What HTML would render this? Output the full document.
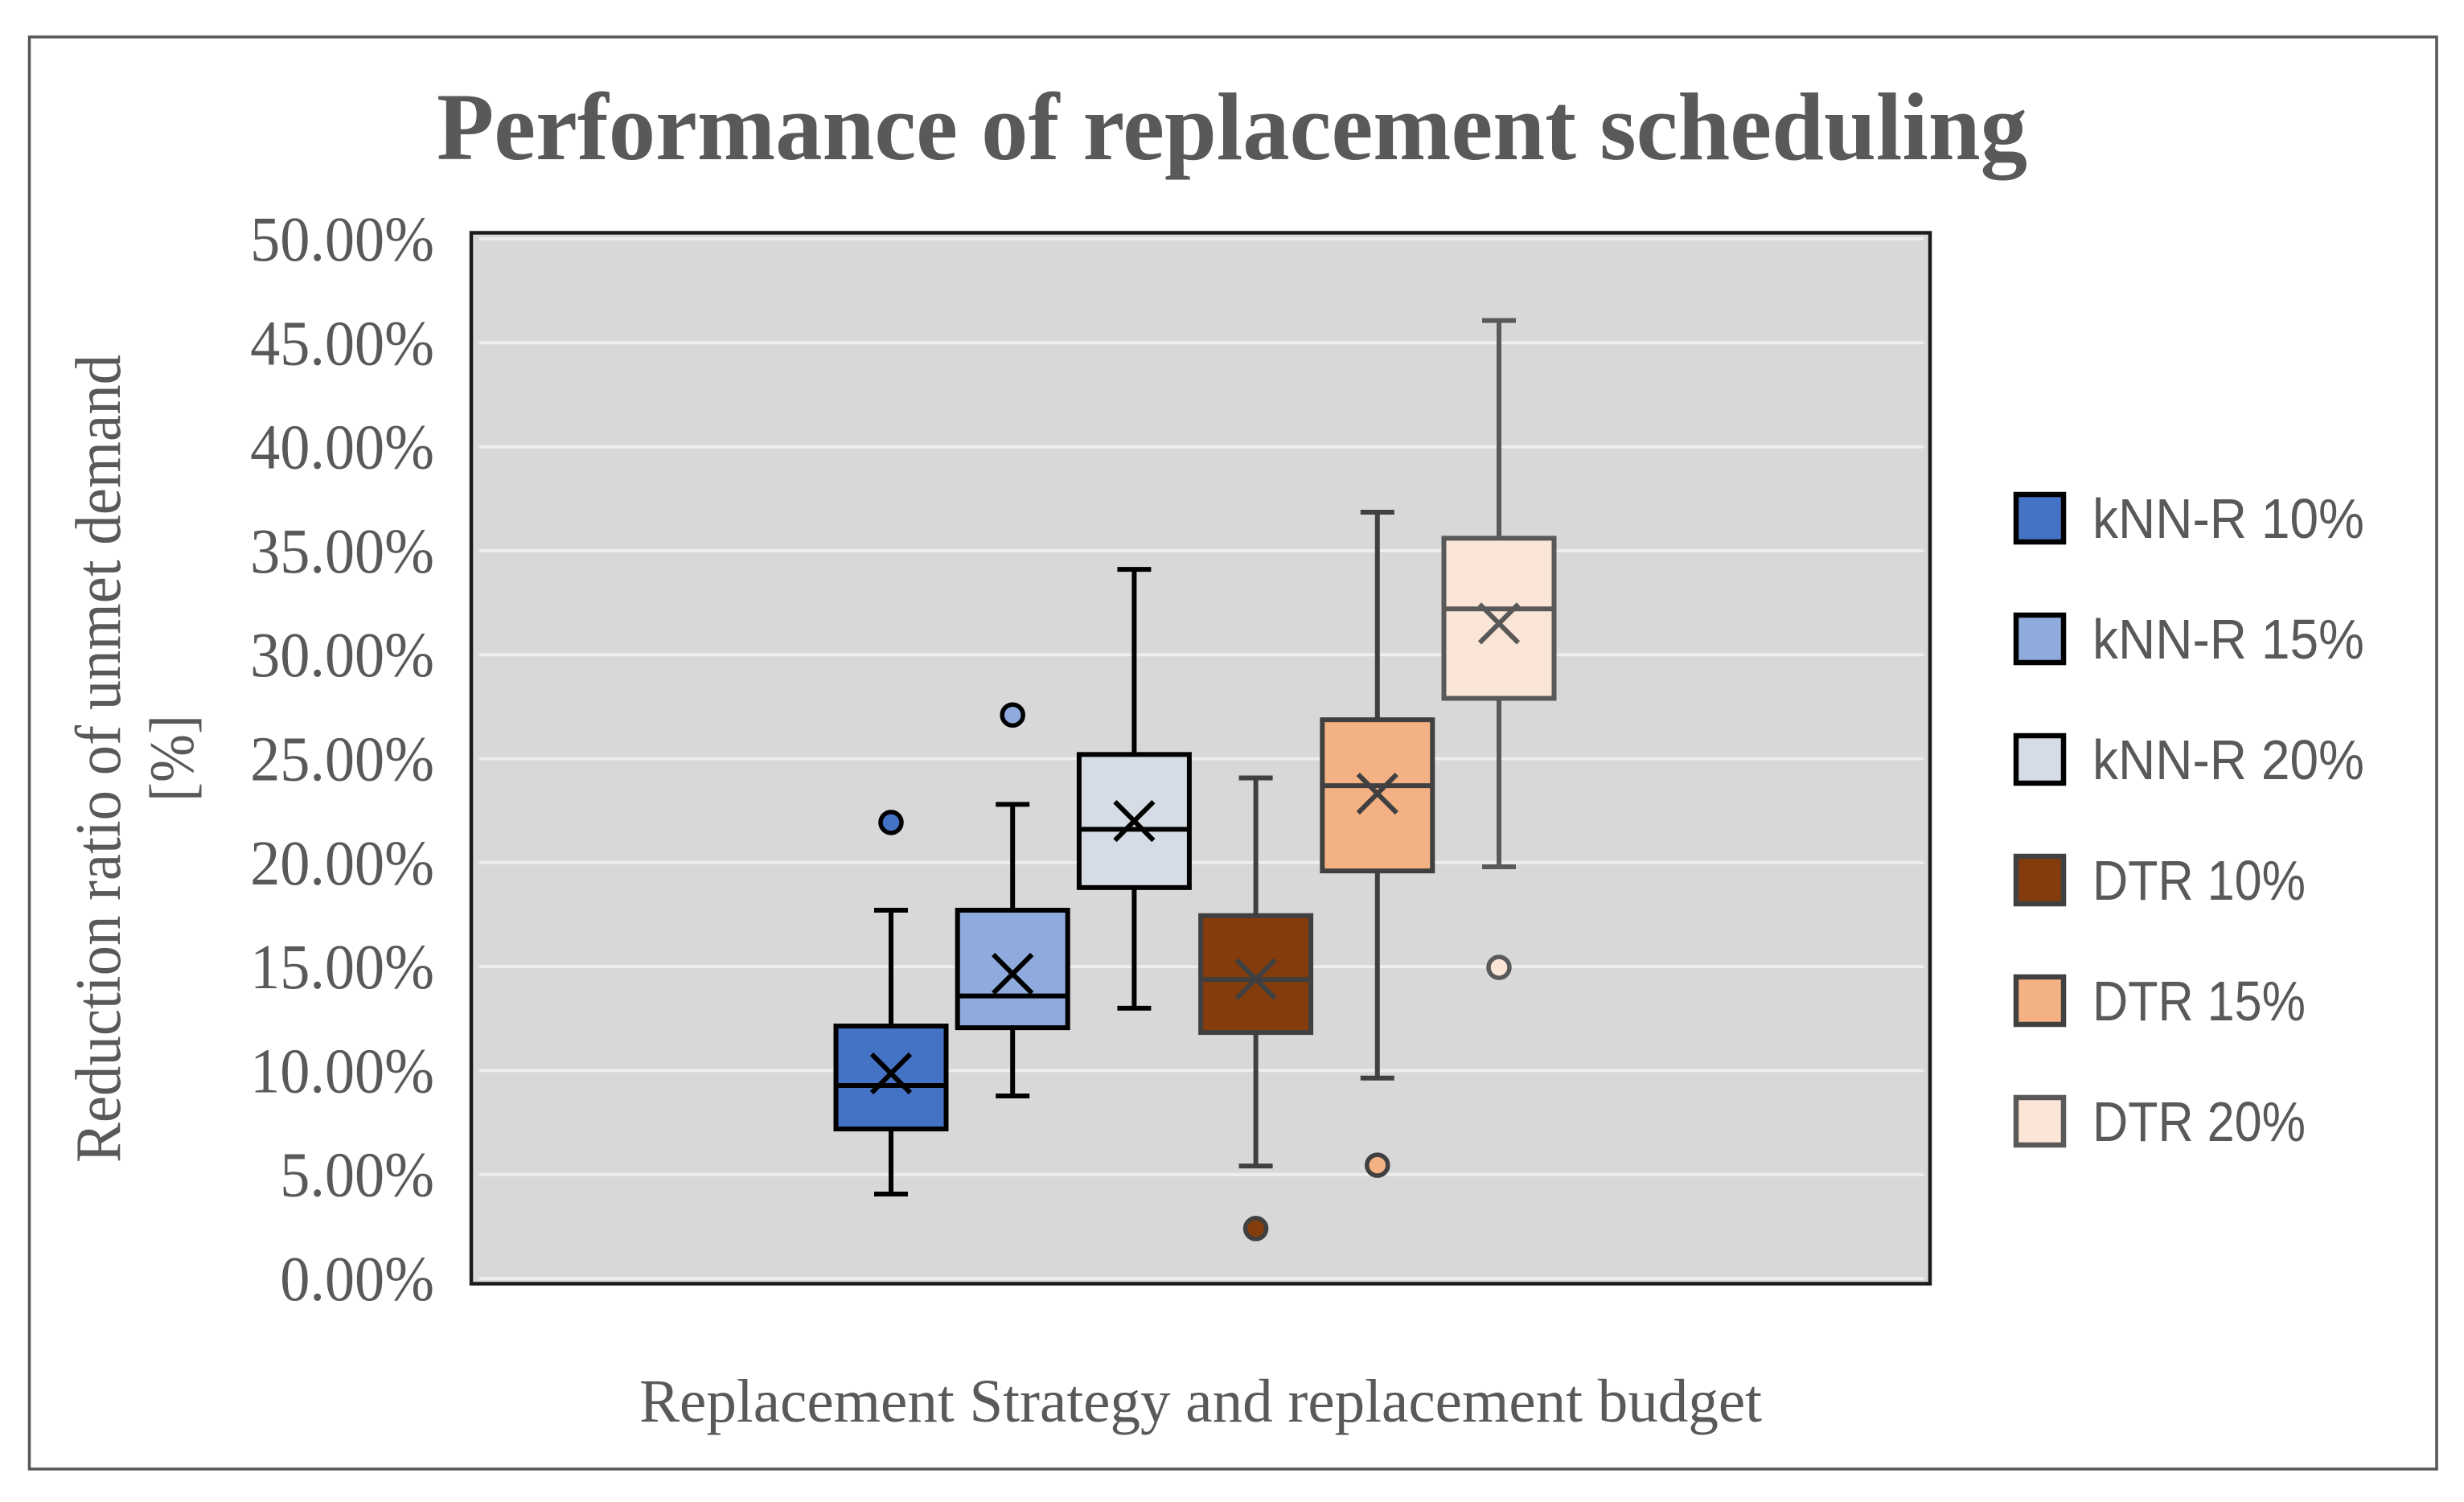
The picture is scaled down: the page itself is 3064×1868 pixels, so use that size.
<!DOCTYPE html>
<html lang="en">
<head>
<meta charset="utf-8">
<title>Performance of replacement scheduling</title>
<style>
  html, body { margin: 0; padding: 0; background: #fff; }
  svg { display: block; }
  text { fill: #595959; font-family: "Liberation Serif", serif; }
  .legend-text { font-family: "Liberation Sans", sans-serif; font-size: 70px; }
</style>
</head>
<body>
<svg id="chart" width="3064" height="1868" viewBox="0 0 3064 1868" xmlns="http://www.w3.org/2000/svg">
  <rect x="0" y="0" width="3064" height="1868" fill="#ffffff"/>
  <rect x="36.5" y="46" width="2993.5" height="1781" fill="#ffffff" stroke="#555555" stroke-width="3.5"/>
  <text x="543" y="198" font-size="120" font-weight="700" textLength="1978" lengthAdjust="spacingAndGlyphs">Performance of replacement scheduling</text>
  <rect x="586" y="289.5" width="1814" height="1307" fill="#d8d8d8" stroke="#1c1c1c" stroke-width="4.5"/>
  <g id="grid"></g>
  <g id="ticks"></g>
  <text transform="translate(149,1446) rotate(-90)" font-size="80" textLength="1005" lengthAdjust="spacingAndGlyphs">Reduction ratio of unmet demand</text>
  <text transform="translate(240,997) rotate(-90)" font-size="78" textLength="108" lengthAdjust="spacingAndGlyphs">[%]</text>
  <text x="795" y="1768" font-size="76" textLength="1396" lengthAdjust="spacingAndGlyphs">Replacement Strategy and replacement budget</text>
  <g id="boxes"></g>
  <g id="legend"></g>
</svg>
<script>
const categories = ['kNN-R 10%', 'kNN-R 15%', 'kNN-R 20%', 'DTR 10%', 'DTR 15%', 'DTR 20%'];
const whiskerLow = [4.06, 8.78, 13.0, 5.41, 9.64, 19.8];
const q1 = [7.19, 12.06, 18.8, 11.83, 19.6, 27.9];
const median = [9.28, 13.59, 21.6, 14.38, 23.7, 32.2];
const q3 = [12.14, 17.71, 25.2, 17.45, 26.87, 35.6];
const whiskerHigh = [17.71, 22.8, 34.1, 24.07, 36.85, 46.07];
const mean = [9.86, 14.65, 22.0, 14.4, 23.32, 31.5];
const outliers = [21.93, 27.1, null, 2.4, 5.45, 14.96];
const tickValues = [0, 5, 10, 15, 20, 25, 30, 35, 40, 45, 50];
const tickLabels = ['0.00%', '5.00%', '10.00%', '15.00%', '20.00%', '25.00%', '30.00%', '35.00%', '40.00%', '45.00%', '50.00%'];
const fills = ['#4472c4', '#8faadc', '#d6dce5', '#843c0c', '#f4b183', '#fbe5d6'];
const strokes = ['#000000', '#000000', '#000000', '#404040', '#404040', '#595959'];

const NS = 'http://www.w3.org/2000/svg';
function yScale(v) { return 1590 - 25.86 * v; }
function xScale(i) { return 1108 + 151.2 * i; }
function make(tag, attrs, parent) {
  const el = document.createElementNS(NS, tag);
  for (const k in attrs) el.setAttribute(k, attrs[k]);
  parent.appendChild(el);
  return el;
}
function slug(label) { return label.toLowerCase().replace(/[^a-z0-9]+/g, '-').replace(/-$/, ''); }

const gridG = document.getElementById('grid');
const ticksG = document.getElementById('ticks');
tickValues.forEach(function (v, i) {
  const line = make('line', { x1: 596, x2: 2392, y1: yScale(v), y2: yScale(v), stroke: '#ededed', 'stroke-width': 4 }, gridG);
  
  
  const t = make('text', { transform: 'translate(540,' + (yScale(v) + 27) + ') scale(0.94,1)', 'text-anchor': 'end', 'font-size': 79 }, ticksG);
  t.textContent = tickLabels[i];
  
  
});

const boxesG = document.getElementById('boxes');
categories.forEach(function (label, i) {
  const cx = xScale(i);
  const s = strokes[i];
  const sw = 6;
  const g = make('g', {}, boxesG);
  
  

  const whiskerUp = make('line', { x1: cx, x2: cx, y1: yScale(q3[i]), y2: yScale(whiskerHigh[i]), stroke: s, 'stroke-width': sw }, g);
  
  
  const whiskerDown = make('line', { x1: cx, x2: cx, y1: yScale(q1[i]), y2: yScale(whiskerLow[i]), stroke: s, 'stroke-width': sw }, g);
  
  
  const capUp = make('line', { x1: cx - 21, x2: cx + 21, y1: yScale(whiskerHigh[i]), y2: yScale(whiskerHigh[i]), stroke: s, 'stroke-width': sw }, g);
  
  
  const capDown = make('line', { x1: cx - 21, x2: cx + 21, y1: yScale(whiskerLow[i]), y2: yScale(whiskerLow[i]), stroke: s, 'stroke-width': sw }, g);
  
  

  const box = make('rect', { x: cx - 68.5, width: 137, y: yScale(q3[i]), height: yScale(q1[i]) - yScale(q3[i]), fill: fills[i], stroke: s, 'stroke-width': sw }, g);
  
  
  const med = make('line', { x1: cx - 68.5, x2: cx + 68.5, y1: yScale(median[i]), y2: yScale(median[i]), stroke: s, 'stroke-width': sw }, g);
  
  

  const my = yScale(mean[i]);
  const mark = make('path', { d: 'M' + (cx - 24) + ' ' + (my - 24) + 'L' + (cx + 24) + ' ' + (my + 24) + 'M' + (cx - 24) + ' ' + (my + 24) + 'L' + (cx + 24) + ' ' + (my - 24), fill: 'none', stroke: s, 'stroke-width': sw }, g);
  
  

  if (outliers[i] !== null) {
    const dot = make('circle', { cx: cx, cy: yScale(outliers[i]), r: 13, fill: fills[i], stroke: s, 'stroke-width': 5.5 }, g);
    
    
  }
});

const legendG = document.getElementById('legend');
categories.forEach(function (label, i) {
  const top = 615 + 150 * i;
  const row = make('g', {}, legendG);
  
  
  const swatch = make('rect', { x: 2507, y: top, width: 59, height: 59, fill: fills[i], stroke: strokes[i], 'stroke-width': 6.5 }, row);
  
  
  const t = make('text', { x: 2602, y: top + 54, 'class': 'legend-text', textLength: label.indexOf('kNN') === 0 ? 338 : 265, lengthAdjust: 'spacingAndGlyphs' }, row);
  t.textContent = label;
  
  
});
</script>
</body>
</html>
